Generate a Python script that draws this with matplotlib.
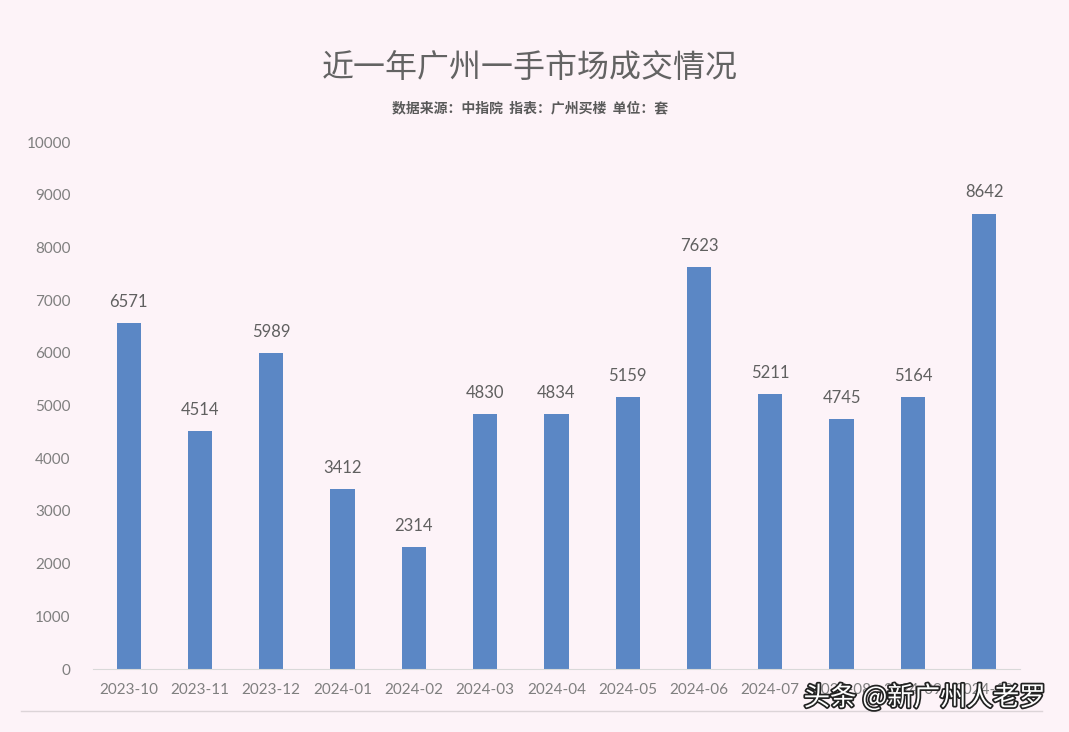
import matplotlib.pyplot as plt
import matplotlib.patheffects as pe
from matplotlib.lines import Line2D

plt.rcParams['font.family'] = ['Lato', 'Noto Sans CJK SC', 'DejaVu Sans']

months = ['2023-10', '2023-11', '2023-12', '2024-01', '2024-02', '2024-03', '2024-04',
          '2024-05', '2024-06', '2024-07', '2024-08', '2024-09', '2024-10']
deals = [6571, 4514, 5989, 3412, 2314, 4830, 4834, 5159, 7623, 5211, 4745, 5164, 8642]

bg = '#fdf3f8'
bar_color = '#5b87c5'
text_gray = '#595959'

fig = plt.figure(figsize=(10.69, 7.32), dpi=100, facecolor=bg)
ax = fig.add_axes([0.087, 0.086, 0.867, 0.72], facecolor=bg)

x = list(range(len(months)))
bars = ax.bar(x, deals, width=0.34, color=bar_color)
for xi, v in zip(x, deals):
    ax.text(xi, v + 250, str(v), ha='center', va='bottom', fontsize=12, color='#606060')

ax.set_xlim(-0.5, len(months) - 0.5)
ax.set_ylim(0, 10000)
ax.set_yticks(range(0, 10001, 1000))
ax.set_xticks(x)
ax.set_xticklabels(months)
ax.tick_params(axis='both', length=0, labelsize=11, labelcolor='#7f7f7f')
ax.tick_params(axis='x', pad=10)
ax.tick_params(axis='y', pad=16)
for s in ['top', 'right', 'left']:
    ax.spines[s].set_visible(False)
ax.spines['bottom'].set_color('#d9d9d9')

fig.text(0.496, 0.907, '近一年广州一手市场成交情况', ha='center', va='center',
         fontsize=23, color='#636363', fontweight='medium', family=['Noto Sans CJK SC'])
fig.text(0.496, 0.852, '数据来源：中指院  指表：广州买楼  单位：套', ha='center', va='center',
         fontsize=10, color=text_gray, fontweight='bold', family=['Noto Sans CJK SC'])

# thin frame line under the labels
fig.add_artist(Line2D([0.02, 0.975], [0.029, 0.029], color='#dcd4d8', linewidth=1))

# watermark
fig.text(0.978, 0.047, '头条 @新广州人老罗', ha='right', va='center', fontsize=19,
         color='white', family=['Noto Sans CJK SC'],
         path_effects=[pe.withStroke(linewidth=2.5, foreground='#222222')])

fig.savefig('out.png', dpi=100, facecolor=bg)
